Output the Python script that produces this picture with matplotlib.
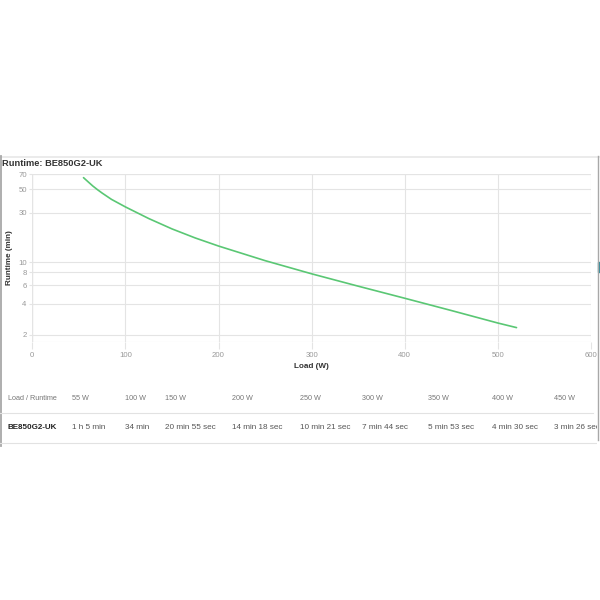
import matplotlib
matplotlib.use("Agg")
import matplotlib.pyplot as plt
from matplotlib.lines import Line2D
from matplotlib.patches import Rectangle

plt.rcParams['font.family'] = ['Liberation Sans', 'DejaVu Sans']

# ---- data ----
title = "Runtime: BE850G2-UK"
model = "BE850G2-UK"
curve_load = [55, 60, 65, 70, 75, 85, 100, 125, 150, 175, 200, 250, 300, 350, 400, 450, 500, 520]
curve_runtime = [65, 59.2, 54, 49.8, 46.2, 40.2, 34, 26.3, 20.9, 17.1, 14.3, 10.35, 7.73, 5.88, 4.5, 3.43, 2.6, 2.35]
x_ticks = [0, 100, 200, 300, 400, 500, 600]
y_ticks = [2, 4, 6, 8, 10, 30, 50, 70]
table_loads = [55, 100, 150, 200, 250, 300, 350, 400, 450]
table_runtimes = ["1 h 5 min", "34 min", "20 min 55 sec", "14 min 18 sec",
                  "10 min 21 sec", "7 min 44 sec", "5 min 53 sec",
                  "4 min 30 sec", "3 min 26 sec"]

W = H = 600
fig = plt.figure(figsize=(6, 6), dpi=100)
fig.patch.set_facecolor('white')

grid_c = '#e4e4e4'
tick_c = '#999999'

# ---- chart axes (pixel placement) ----
x0, x1 = 32.3, 591.0
y_top, y_bot = 174.3, 341.7
ax = fig.add_axes([x0 / W, 1 - y_bot / H, (x1 - x0) / W, (y_bot - y_top) / H])
ax.plot(curve_load, curve_runtime, color='#5ac774', lw=1.2, solid_capstyle='round',
        solid_joinstyle='round')
ax.set_yscale('log')
ax.set_xlim(0, 600)
ax.set_ylim(1.72, 70)
ax.set_xticks(x_ticks)
ax.set_xticklabels([str(v) for v in x_ticks])
ax.set_yticks(y_ticks)
ax.set_yticklabels([str(v) for v in y_ticks])
ax.minorticks_off()
ax.grid(True, color=grid_c, lw=0.8)
for s in ax.spines.values():
    s.set_visible(False)
ax.axhline(70, color='#dadada', lw=1.5, zorder=0)
ax.axhline(1.72, color=grid_c, lw=0.8, zorder=0)
ax.axvline(0, color='#dadada', lw=0.9, zorder=0)
ax.tick_params(axis='both', colors=grid_c, labelcolor=tick_c, labelsize=5.6,
               width=0.8)
ax.tick_params(axis='x', length=5, pad=2.5)
ax.tick_params(axis='y', length=2, pad=2)
ax.set_xlabel("Load (W)", fontsize=5.9, fontweight='bold', color='#333333', labelpad=3)
ax.set_ylabel("Runtime (min)", fontsize=5.9, fontweight='bold', color='#333333', labelpad=4)

# ---- overlay for page elements in pixel coords ----
ov = fig.add_axes([0, 0, 1, 1], zorder=-1)
ov.set_xlim(0, W)
ov.set_ylim(H, 0)
ov.axis('off')

# page borders
ov.add_line(Line2D([0, 600], [156.5, 156.5], color='#e8e8e8', lw=1.2))
ov.add_line(Line2D([1, 1], [156, 446], color='#a8a8a8', lw=1.3))
ov.add_line(Line2D([597.5, 597.5], [156, 440], color='#a8a8a8', lw=1.0))
ov.add_patch(Rectangle((598, 261.5), 2, 10, color='#2a8a9a'))

ov.text(2, 163.5, title, fontsize=6.7, fontweight='bold', color='#333333',
        ha='left', va='center')

# table (clipped at right border)
tb = fig.add_axes([0, 0, 597 / W, 1], zorder=1)
tb.set_xlim(0, 597)
tb.set_ylim(H, 0)
tb.axis('off')
tb.patch.set_alpha(0)

col_x = [72, 125, 165, 231.5, 300, 362.5, 428, 491.5, 554]
tb.text(7.5, 398, "Load / Runtime", fontsize=5.2, color='#777777', ha='left', va='center', clip_on=True)
for cx, ld in zip(col_x, table_loads):
    tb.text(cx, 398, f"{ld} W", fontsize=5.2, color='#777777', ha='left', va='center', clip_on=True)
tb.add_line(Line2D([0, 593], [412.5, 412.5], color='#e2e2e2', lw=0.8))
tb.text(7.5, 427.5, model, fontsize=5.8, fontweight='bold', color='#222222', ha='left', va='center', clip_on=True)
for cx, rt in zip(col_x, table_runtimes):
    tb.text(cx, 427.5, rt, fontsize=5.9, color='#555555', ha='left', va='center', clip_on=True)
tb.add_line(Line2D([0, 597], [442.5, 442.5], color='#e2e2e2', lw=0.8))

fig.savefig("out.png", dpi=100, facecolor='white')
